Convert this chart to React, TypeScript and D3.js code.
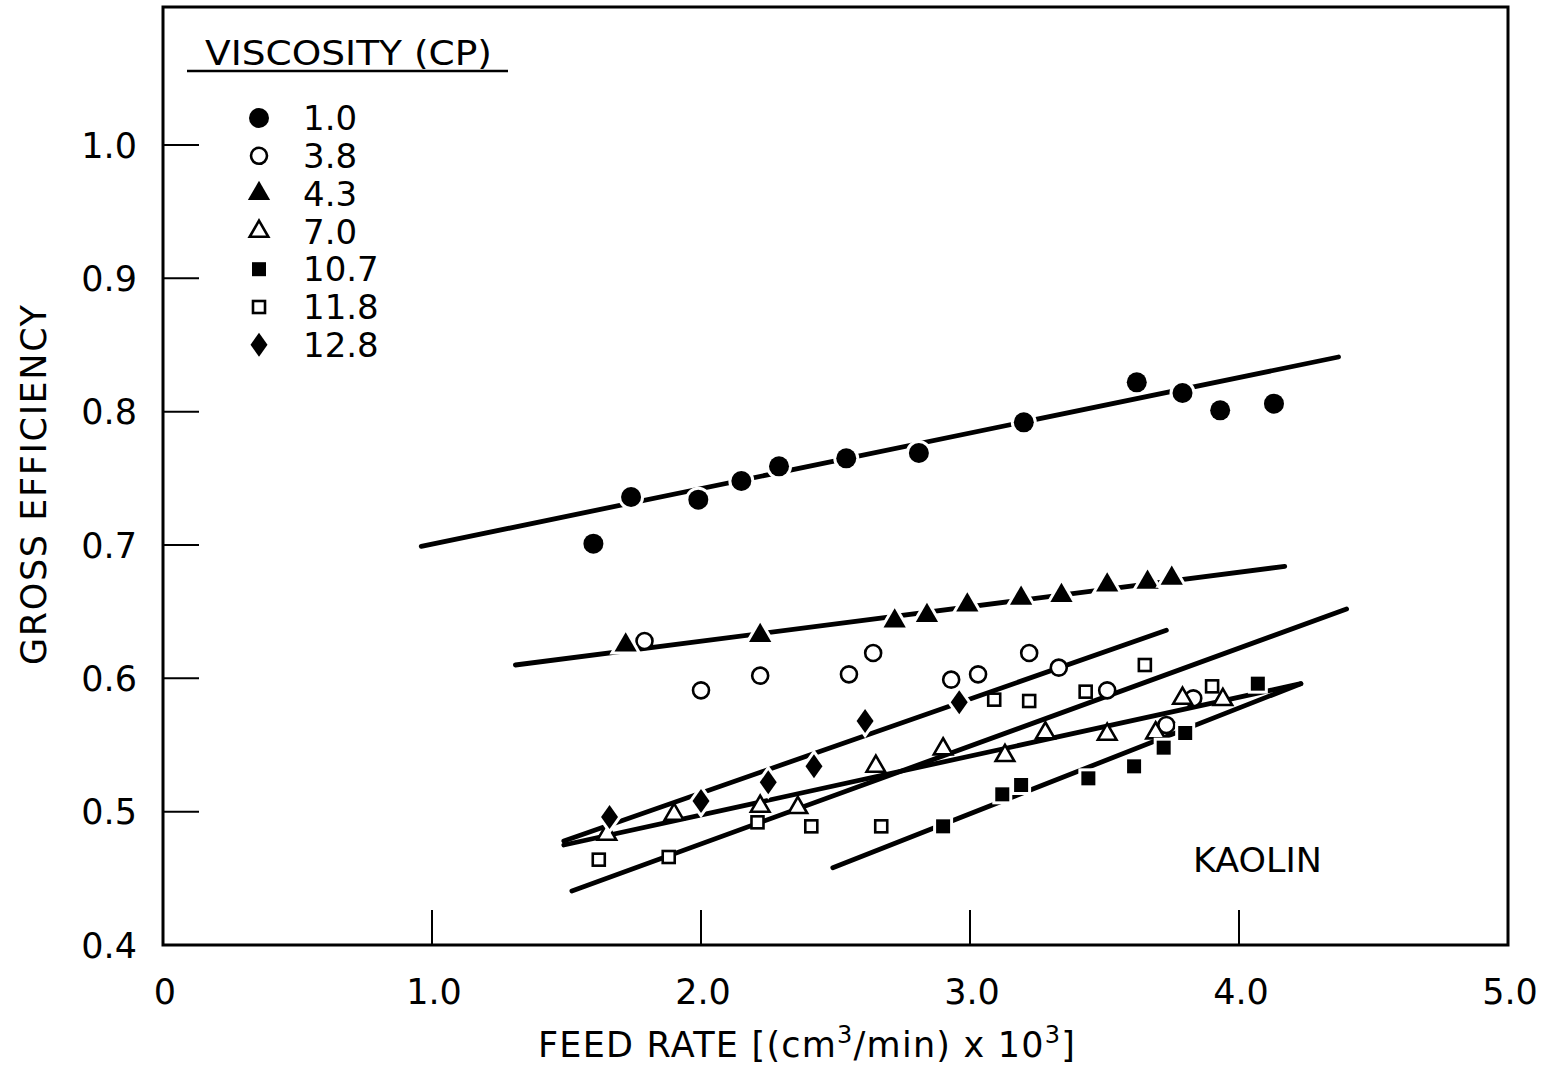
import React from "react";
import * as d3 from "d3";

// Feed rate (x 10^3 cm3/min) vs gross efficiency, one array per viscosity
const visc10: [number, number][] = [
  [1.6, 0.701], [1.74, 0.736], [1.99, 0.734], [2.15, 0.748], [2.29, 0.759], [2.54, 0.765],
  [2.81, 0.769], [3.2, 0.792], [3.62, 0.822], [3.79, 0.814], [3.93, 0.801], [4.13, 0.806],
];
const visc38: [number, number][] = [
  [1.79, 0.628], [2.0, 0.591], [2.22, 0.602], [2.55, 0.603], [2.64, 0.619], [2.93, 0.599],
  [3.03, 0.603], [3.22, 0.619], [3.33, 0.608], [3.51, 0.591], [3.73, 0.565], [3.83, 0.585],
];
const visc43: [number, number][] = [
  [1.72, 0.625], [2.22, 0.632], [2.72, 0.643], [2.84, 0.647], [2.99, 0.655],
  [3.19, 0.66], [3.34, 0.662], [3.51, 0.67], [3.66, 0.672], [3.75, 0.675],
];
const visc70: [number, number][] = [
  [1.65, 0.483], [1.9, 0.498], [2.22, 0.504], [2.36, 0.503], [2.65, 0.534], [2.9, 0.547],
  [3.13, 0.542], [3.28, 0.559], [3.51, 0.558], [3.69, 0.559], [3.79, 0.585], [3.94, 0.584],
];
const visc107: [number, number][] = [
  [2.9, 0.489], [3.12, 0.513], [3.19, 0.52], [3.44, 0.525], [3.61, 0.534],
  [3.72, 0.548], [3.8, 0.559], [4.07, 0.596],
];
const visc118: [number, number][] = [
  [1.62, 0.464], [1.88, 0.466], [2.21, 0.492], [2.41, 0.489], [2.67, 0.489],
  [3.09, 0.584], [3.22, 0.583], [3.43, 0.59], [3.65, 0.61], [3.9, 0.594],
];
const visc128: [number, number][] = [
  [1.66, 0.496], [2.0, 0.508], [2.25, 0.522], [2.42, 0.534], [2.61, 0.568], [2.96, 0.582],
];

// Hand-fitted straight lines: [x0, y0, x1, y1]
const fitLines: [number, number, number, number][] = [
  [0.96, 0.699, 4.37, 0.841],
  [1.31, 0.61, 4.17, 0.684],
  [1.49, 0.478, 3.73, 0.636],
  [1.49, 0.475, 4.23, 0.596],
  [1.52, 0.4405, 4.4, 0.652],
  [2.49, 0.458, 4.23, 0.596],
];

const legendLabels = ["1.0", "3.8", "4.3", "7.0", "10.7", "11.8", "12.8"];
const markerKinds = ["dot", "ring", "tri", "otri", "sq", "osq", "dia"];
const seriesData = [visc10, visc38, visc43, visc70, visc107, visc118, visc128];

const xTicks = [0, 1, 2, 3, 4, 5];
const xTickLabels = ["0", "1.0", "2.0", "3.0", "4.0", "5.0"];
const yTicks = [0.4, 0.5, 0.6, 0.7, 0.8, 0.9, 1.0];
const yTickLabels = ["0.4", "0.5", "0.6", "0.7", "0.8", "0.9", "1.0"];

const FONT = "'DejaVu Sans', sans-serif";

const x = d3.scaleLinear().domain([0, 5]).range([163, 1508]);
const y = d3.scaleLinear().domain([0.4, 1.0]).range([945, 145]);
const yTop = 1.1035;

const triFilled = d3.symbol().type(d3.symbolTriangle).size(215)() as string;
const triOpen = d3.symbol().type(d3.symbolTriangle).size(150)() as string;

function Marker({ kind, cx, cy }: { kind: string; cx: number; cy: number }) {
  const halo = { stroke: "#fff", strokeWidth: 6, paintOrder: "stroke" as const };
  switch (kind) {
    case "dot":
      return <circle cx={cx} cy={cy} r={10} fill="#000" {...halo} />;
    case "ring":
      return <circle cx={cx} cy={cy} r={8} fill="#fff" stroke="#000" strokeWidth={2.6} />;
    case "tri":
      return <path d={triFilled} transform={`translate(${cx},${cy})`} fill="#000" {...halo} />;
    case "otri":
      return (
        <path d={triOpen} transform={`translate(${cx},${cy})`} fill="#fff" stroke="#000"
          strokeWidth={2.6} strokeLinejoin="miter" />
      );
    case "sq":
      return <rect x={cx - 7} y={cy - 7} width={14} height={14} fill="#000" {...halo} />;
    case "osq":
      return (
        <rect x={cx - 6} y={cy - 6} width={12} height={12} fill="#fff" stroke="#000" strokeWidth={2.6} />
      );
    case "dia":
      return (
        <path d={`M${cx},${cy - 12}L${cx + 8.5},${cy}L${cx},${cy + 12}L${cx - 8.5},${cy}Z`}
          fill="#000" {...halo} />
      );
    default:
      return null;
  }
}

export default function App() {
  const left = x(0);
  const right = x(5);
  const bottom = y(0.4);
  const top = y(yTop);
  const lineGen = d3.line<[number, number]>().x((d) => x(d[0])).y((d) => y(d[1]));

  return (
    <svg width={1551} height={1067} style={{ position: "absolute", left: 0, top: 0, background: "#fff" }}
      fontFamily={FONT}>
      <rect width={1551} height={1067} fill="#fff" />

      {/* fitted lines */}
      {fitLines.map((l, i) => (
        <path key={i} d={lineGen([[l[0], l[1]], [l[2], l[3]]]) as string} stroke="#000"
          strokeWidth={4.8} strokeLinecap="round" fill="none" />
      ))}

      {/* data points */}
      {seriesData.map((s, si) =>
        s.map((p, pi) => <Marker key={`${si}-${pi}`} kind={markerKinds[si]} cx={x(p[0])} cy={y(p[1])} />)
      )}

      {/* frame */}
      <path d={`M${left},${top}L${right},${top}L${right},${bottom}L${left},${bottom}Z`} fill="none"
        stroke="#000" strokeWidth={3} />

      {/* y ticks */}
      {yTicks.map((t, i) => (
        <g key={t}>
          {i > 0 && <line x1={left} x2={left + 36} y1={y(t)} y2={y(t)} stroke="#000" strokeWidth={2} />}
          <text x={137} y={y(t)} dy="0.36em" textAnchor="end" fontSize={35}>{yTickLabels[i]}</text>
        </g>
      ))}

      {/* x ticks */}
      {xTicks.map((t, i) => (
        <g key={t}>
          {i > 0 && i < 5 && <line x1={x(t)} x2={x(t)} y1={bottom} y2={bottom - 35} stroke="#000" strokeWidth={2} />}
          <text x={x(t) + 2} y={991} dy="0.36em" textAnchor="middle" fontSize={35}>{xTickLabels[i]}</text>
        </g>
      ))}

      {/* axis titles */}
      <text transform="translate(46,485) rotate(-90)" textAnchor="middle" fontSize={35}
        textLength={360} lengthAdjust="spacing">GROSS EFFICIENCY</text>
      <text x={538} y={1057} fontSize={35} textLength={537} lengthAdjust="spacing">
        FEED RATE [(cm<tspan baselineShift="super" fontSize={24}>3</tspan>/min) x 10<tspan baselineShift="super" fontSize={24}>3</tspan>]
      </text>

      {/* legend */}
      <text x={205} y={65} fontSize={34} textLength={287} lengthAdjust="spacingAndGlyphs">VISCOSITY (CP)</text>
      <line x1={187} x2={508} y1={71} y2={71} stroke="#000" strokeWidth={2.5} />
      {legendLabels.map((lab, i) => {
        const cy = 118 + i * 37.8;
        return (
          <g key={lab}>
            <Marker kind={markerKinds[i]} cx={259} cy={cy} />
            <text x={303} y={cy} dy="0.36em" fontSize={34}>{lab}</text>
          </g>
        );
      })}

      <text x={1193} y={860} dy="0.36em" fontSize={33} textLength={129} lengthAdjust="spacingAndGlyphs">KAOLIN</text>
    </svg>
  );
}
